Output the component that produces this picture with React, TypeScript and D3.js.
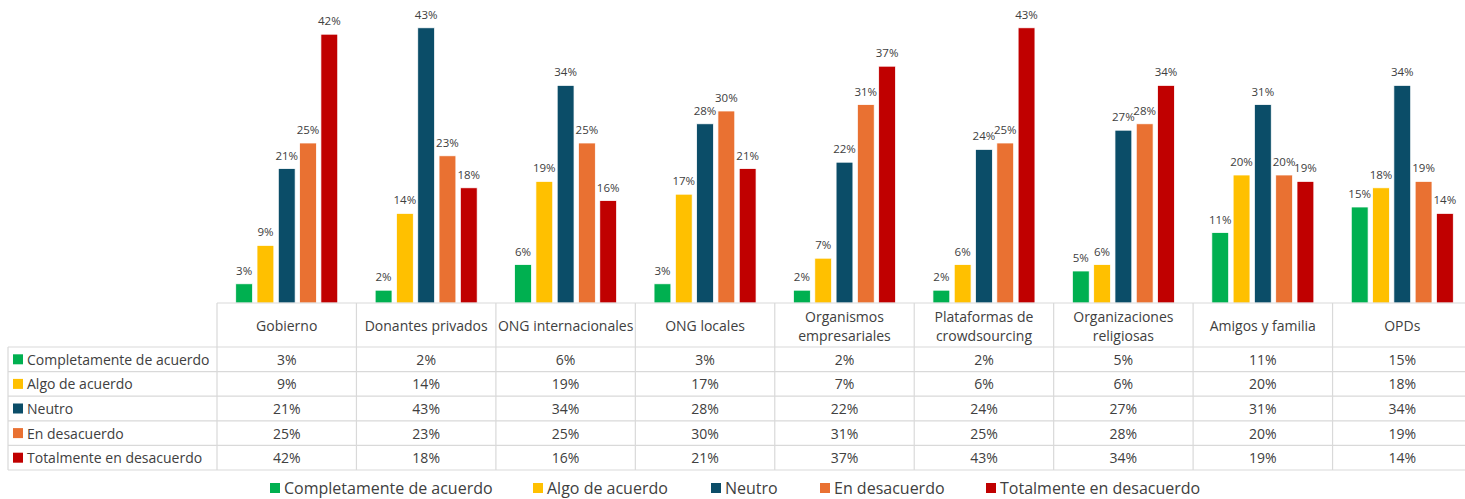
import * as d3 from "d3";

const categories = [
  ["Gobierno"],
  ["Donantes privados"],
  ["ONG internacionales"],
  ["ONG locales"],
  ["Organismos", "empresariales"],
  ["Plataformas de", "crowdsourcing"],
  ["Organizaciones", "religiosas"],
  ["Amigos y familia"],
  ["OPDs"],
];

const seriesNames = [
  "Completamente de acuerdo",
  "Algo de acuerdo",
  "Neutro",
  "En desacuerdo",
  "Totalmente en desacuerdo",
];

const completamente = [3, 2, 6, 3, 2, 2, 5, 11, 15];
const algo = [9, 14, 19, 17, 7, 6, 6, 20, 18];
const neutro = [21, 43, 34, 28, 22, 24, 27, 31, 34];
const desacuerdo = [25, 23, 25, 30, 31, 25, 28, 20, 19];
const totalmente = [42, 18, 16, 21, 37, 43, 34, 19, 14];

const colors = ["#00B050", "#FFC000", "#0B4D68", "#E97132", "#C00000"];

const W = 1465;
const H = 499;
const FONT = "'Open Sans', 'Noto Sans', sans-serif";
const TXT = "#404040";
const GRID = "#d9d9d9";

export default function App() {
  const values = [completamente, algo, neutro, desacuerdo, totalmente];
  const keys = categories.map((c) => c.join(" "));

  const tableLeft = 8;
  const plotLeft = 217;
  const plotRight = 1472;
  const baseline = 303;
  const headerBottom = 347;
  const rowH = 24.6;

  const x0 = d3.scaleBand().domain(keys).range([plotLeft, plotRight]).padding(0);
  const groupW = 102;
  const off = (x0.bandwidth() - groupW) / 2;
  const x1 = d3
    .scaleBand()
    .domain(seriesNames)
    .range([off, off + groupW])
    .paddingInner(0.21)
    .paddingOuter(0);
  const y = d3.scaleLinear().domain([0, 45]).range([baseline, 15]);

  const tableBottom = headerBottom + rowH * seriesNames.length;

  return (
    <svg
      width={W}
      height={H}
      style={{ position: "absolute", left: 0, top: 0, background: "#fff" }}
      fontFamily={FONT}
    >
      {/* bars and labels */}
      {keys.map((k, ci) => (
        <g key={k} transform={`translate(${x0(k)},0)`}>
          {seriesNames.map((s, si) => {
            const v = values[si][ci];
            const bx = x1(s)!;
            return (
              <g key={s}>
                <rect
                  x={bx}
                  y={y(v)}
                  width={x1.bandwidth()}
                  height={baseline - y(v)}
                  fill={colors[si]}
                  stroke="#fff"
                  strokeWidth={0.75}
                />
                <text
                  x={bx + x1.bandwidth() / 2}
                  y={y(v) - 9}
                  textAnchor="middle"
                  fontSize={11.5}
                  fill={TXT}
                >
                  {v}%
                </text>
              </g>
            );
          })}
        </g>
      ))}

      {/* table grid */}
      <g stroke={GRID} strokeWidth={1.2} fill="none">
        <line x1={plotLeft} x2={plotRight} y1={baseline} y2={baseline} />
        <line x1={tableLeft} x2={plotRight} y1={headerBottom} y2={headerBottom} />
        {seriesNames.map((s, i) => (
          <line
            key={s}
            x1={tableLeft}
            x2={plotRight}
            y1={headerBottom + rowH * (i + 1)}
            y2={headerBottom + rowH * (i + 1)}
          />
        ))}
        <line x1={tableLeft} x2={tableLeft} y1={headerBottom} y2={tableBottom} />
        {keys.map((k) => (
          <line key={k} x1={x0(k)} x2={x0(k)} y1={baseline} y2={tableBottom} />
        ))}
        <line x1={plotRight} x2={plotRight} y1={baseline} y2={tableBottom} />
      </g>

      {/* header labels */}
      {categories.map((lines, ci) => {
        const cx = x0(keys[ci])! + x0.bandwidth() / 2;
        const mid = (baseline + headerBottom) / 2;
        return (
          <text
            key={keys[ci]}
            x={cx}
            textAnchor="middle"
            fontSize={14}
            fill={TXT}
            dominantBaseline="central"
          >
            {lines.map((l, li) => (
              <tspan key={l} x={cx} y={mid + (li - (lines.length - 1) / 2) * 19}>
                {l}
              </tspan>
            ))}
          </text>
        );
      })}

      {/* table rows */}
      {seriesNames.map((s, si) => {
        const cy = headerBottom + rowH * si + rowH / 2;
        return (
          <g key={s}>
            <rect x={13} y={cy - 5} width={10} height={10} fill={colors[si]} />
            <text x={27} y={cy} fontSize={14} fill={TXT} dominantBaseline="central">
              {s}
            </text>
            {keys.map((k, ci) => (
              <text
                key={k}
                x={x0(k)! + x0.bandwidth() / 2}
                y={cy}
                textAnchor="middle"
                fontSize={14}
                fill={TXT}
                dominantBaseline="central"
              >
                {values[si][ci]}%
              </text>
            ))}
          </g>
        );
      })}

      {/* bottom legend */}
      {(() => {
        const legendX = [270, 533, 711, 820, 986];
        return seriesNames.map((s, si) => (
          <g key={s}>
            <rect x={legendX[si]} y={483} width={10} height={10} fill={colors[si]} />
            <text
              x={legendX[si] + 14}
              y={488}
              fontSize={16}
              fill={TXT}
              dominantBaseline="central"
            >
              {s}
            </text>
          </g>
        ));
      })()}
    </svg>
  );
}
